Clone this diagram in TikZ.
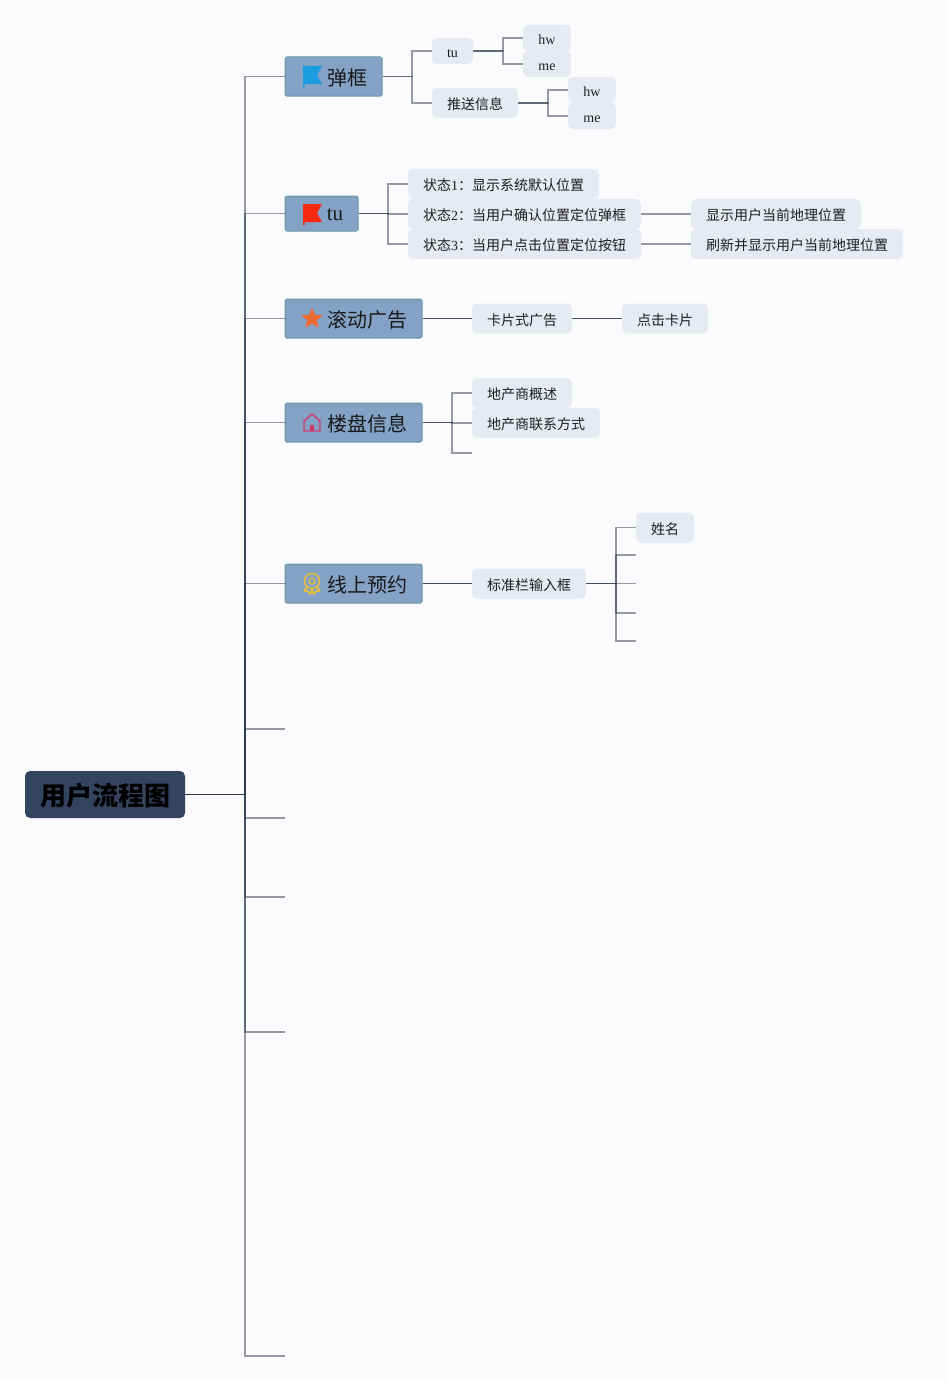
\documentclass[tikz,border=0pt]{standalone}
\usepackage{fontspec}
\setmainfont{Liberation Serif}
\newfontfamily\cjk{Noto Sans CJK SC}
\newcommand{\C}[1]{{\cjk #1}}
\definecolor{bgc}{HTML}{FBFBFD}
\definecolor{rootc}{HTML}{33445F}
\definecolor{topicc}{HTML}{84A1C6}
\definecolor{topicb}{HTML}{689AA0}
\definecolor{subc}{HTML}{E6EAF2}
\definecolor{linec}{HTML}{2C3A50}
\definecolor{iconblue}{HTML}{1B9BE0}
\definecolor{iconred}{HTML}{F52A0F}
\definecolor{iconorange}{HTML}{EE6B34}
\definecolor{iconpink}{HTML}{D33B6A}
\definecolor{icongold}{HTML}{E6BE3C}
\tikzset{
  rootbox/.style={fill=rootc,rounded corners=5pt,inner sep=0pt,text=black,text height=22pt,text depth=0pt,font=\fontsize{26}{30}\selectfont},
  topicbox/.style={fill=topicc,draw=topicb,line width=1pt,rounded corners=1.5pt,inner sep=0pt,text=black!90,text height=17.2pt,text depth=0pt,font=\fontsize{20}{24}\selectfont},
  subbox/.style={fill=subc,rounded corners=5pt,inner sep=0pt,text=black!88,text height=13.6pt,text depth=0pt,font=\fontsize{14}{17}\selectfont},
  conn/.style={draw=linec,line width=1.25pt,draw opacity=0.5},
  solo/.style={draw=linec,line width=1.1pt,draw opacity=0.9},
}
\begin{document}
\begin{tikzpicture}[x=1pt,y=-1pt]
\useasboundingbox[fill=bgc] (0,0) rectangle (948,1381);

\node[rootbox,minimum width=160pt,minimum height=47pt] (root) at (105,794.5) {\cjk\bfseries 用户流程图};

\node[topicbox,minimum width=97pt,minimum height=39pt] (t1) at (333.5,76.5) {\hspace{27pt}\C{弹框}};
\node[topicbox,minimum width=73pt,minimum height=35pt,text height=14pt] (t2) at (321.5,213.5) {\hspace{27pt}\fontsize{21}{24}\selectfont tu};
\node[topicbox,minimum width=137pt,minimum height=39pt] (t3) at (353.5,318.5) {\hspace{27pt}\C{滚动广告}};
\node[topicbox,minimum width=137pt,minimum height=39pt] (t4) at (353.5,422.5) {\hspace{27pt}\C{楼盘信息}};
\node[topicbox,minimum width=137pt,minimum height=39pt] (t5) at (353.5,583.5) {\hspace{27pt}\C{线上预约}};

\node[subbox,minimum width=41pt,minimum height=26pt] (tu) at (452.5,51) {tu};
\node[subbox,minimum width=48pt,minimum height=26pt] (hwa) at (547,38) {hw};
\node[subbox,minimum width=48pt,minimum height=26pt] (mea) at (547,64) {me};
\node[subbox,minimum width=86pt,minimum height=30pt] (push) at (475,103) {\C{推送信息}};
\node[subbox,minimum width=48pt,minimum height=26pt] (hwb) at (592,90) {hw};
\node[subbox,minimum width=48pt,minimum height=26pt] (meb) at (592,116) {me};

\node[subbox,minimum width=191pt,minimum height=30pt] (s1) at (503.5,184) {\C{状态}1\C{：显示系统默认位置}};
\node[subbox,minimum width=233pt,minimum height=30pt] (s2) at (524.5,214) {\C{状态}2\C{：当用户确认位置定位弹框}};
\node[subbox,minimum width=233pt,minimum height=30pt] (s3) at (524.5,244) {\C{状态}3\C{：当用户点击位置定位按钮}};
\node[subbox,minimum width=170pt,minimum height=30pt] (r2) at (776,214) {\C{显示用户当前地理位置}};
\node[subbox,minimum width=212pt,minimum height=30pt] (r3) at (797,244) {\C{刷新并显示用户当前地理位置}};

\node[subbox,minimum width=100pt,minimum height=30pt] (card) at (522,318.5) {\C{卡片式广告}};
\node[subbox,minimum width=86pt,minimum height=30pt] (click) at (665,318.5) {\C{点击卡片}};

\node[subbox,minimum width=100pt,minimum height=30pt] (dev) at (522,393) {\C{地产商概述}};
\node[subbox,minimum width=128pt,minimum height=30pt] (contact) at (536,423) {\C{地产商联系方式}};

\node[subbox,minimum width=114pt,minimum height=30pt] (field) at (529,583.5) {\C{标准栏输入框}};
\node[subbox,minimum width=58pt,minimum height=30pt] (name) at (665,527.5) {\C{姓名}};

% free ends
\coordinate (e1) at (285,729);
\coordinate (e2) at (285,818);
\coordinate (e3) at (285,897);
\coordinate (e4) at (285,1032);
\coordinate (e5) at (285,1356);
\coordinate (f1) at (472,453);
\coordinate (g1) at (636,555);
\coordinate (g2) at (636,583.5);
\coordinate (g3) at (636,613);
\coordinate (g4) at (636,641);
% elbow hubs
\coordinate (hub) at (245,794.5);
\coordinate (h1) at (412,76.5);
\coordinate (h1a) at (503,51);
\coordinate (h1b) at (548,103);
\coordinate (h2) at (388,213.5);
\coordinate (h4) at (452,422.5);
\coordinate (h5) at (616,583.5);

\foreach \t in {t1,t2,t3,t4,t5} \draw[conn] (root.east) -- (hub) |- (\t.west);
\foreach \t in {e1,e2,e3,e4,e5} \draw[conn] (root.east) -- (hub) |- (\t);
\foreach \t in {tu,push} \draw[conn] (t1.east) -- (h1) |- (\t.west);
\foreach \t in {hwa,mea} \draw[conn] (tu.east) -- (h1a) |- (\t.west);
\foreach \t in {hwb,meb} \draw[conn] (push.east) -- (h1b) |- (\t.west);
\foreach \t in {s1,s2,s3} \draw[conn] (t2.east) -- (h2) |- (\t.west);
\draw[conn] (s2.east) -- (r2.west);
\draw[conn] (s3.east) -- (r3.west);
\draw[solo] (t3.east) -- (card.west);
\draw[solo] (card.east) -- (click.west);
\draw[conn] (t4.east) -- (h4) |- (dev.west);
\draw[conn] (t4.east) -- (h4) |- (contact.west);
\draw[conn] (t4.east) -- (h4) |- (f1);
\draw[solo] (t5.east) -- (field.west);
\draw[solo] (field.east) -- (h5);
\draw[conn] (h5) |- (name.west);
\foreach \t in {g1,g2,g3,g4} \draw[conn] (h5) |- (\t);

% icons
\fill[iconblue] (303,66) -- (322,66) -- (317,75) -- (322,84) -- (304.5,84) -- (304.5,87) -- (303,87) -- cycle;
\fill[iconred] (303,204) -- (322,204) -- (317,213) -- (322,222) -- (304.5,222) -- (304.5,225) -- (303,225) -- cycle;
\fill[iconorange,draw=iconorange,line join=round,line width=1pt] (312,309) -- (314.6,315.3) -- (321.5,315.7) -- (316.2,320) -- (318,326.7) -- (312,323) -- (306,326.7) -- (307.8,320) -- (302.5,315.7) -- (309.4,315.3) -- cycle;
\draw[iconpink,line width=1.4pt,line join=round] (304,421) -- (312,414) -- (320,421) -- (320,431) -- (304,431) -- cycle;
\fill[iconpink] (310,431) -- (310,426.5) arc[start angle=180,end angle=360,x radius=2pt,y radius=-2pt] -- (314,431) -- cycle;
\draw[icongold,line width=1.6pt] (312,581) circle[radius=7.5pt];
\draw[icongold,line width=1.3pt] (312,581) circle[radius=3pt];
\draw[icongold,line width=1.6pt,line join=round] (307,587) -- (304,591) -- (308,591.5) -- (310,594) -- (312,590) -- (314,594) -- (316,591.5) -- (320,591) -- (317,587);
\end{tikzpicture}
\end{document}
